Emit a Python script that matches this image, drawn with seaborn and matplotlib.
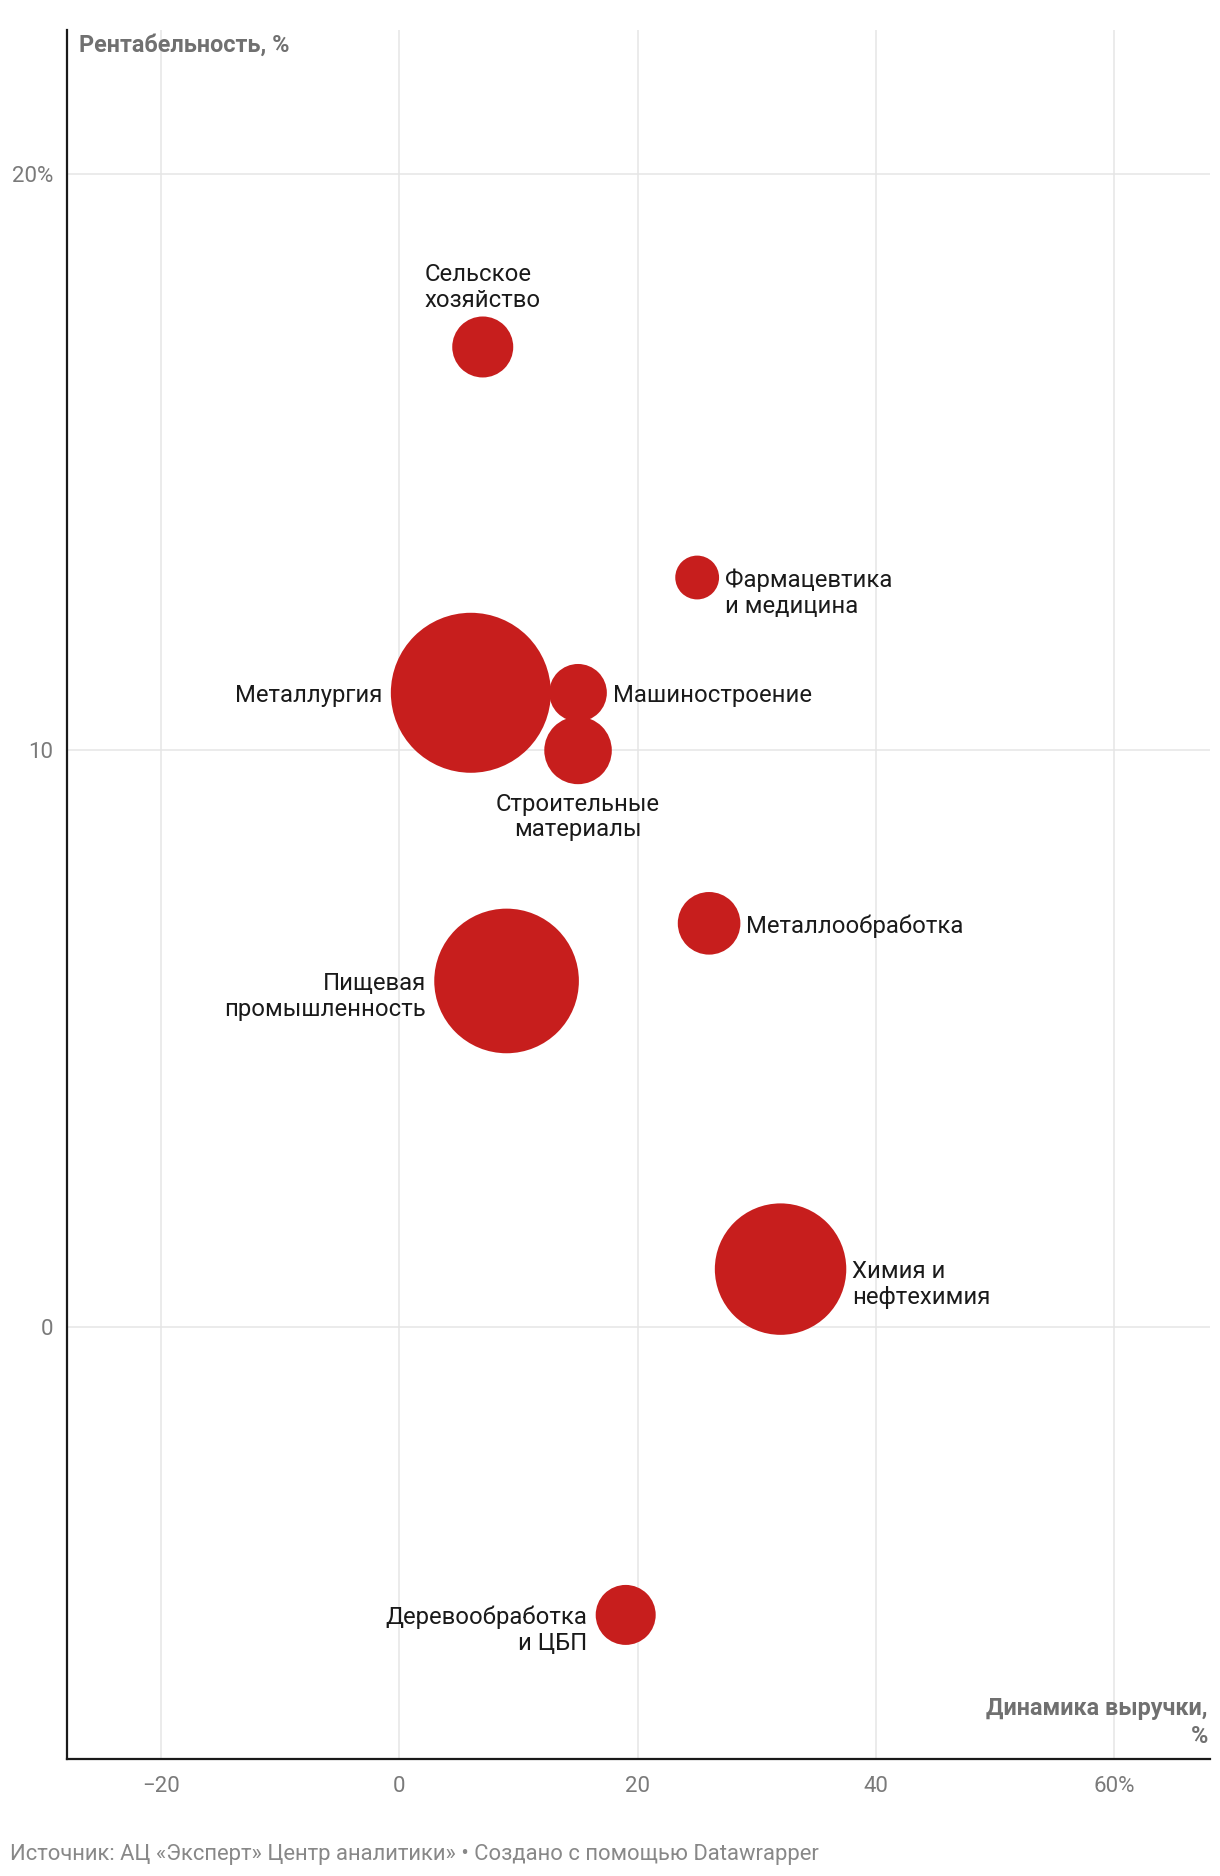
"""Bubble chart: revenue dynamics vs profitability by industry."""

import matplotlib.pyplot as plt
import numpy as np
import pandas as pd
import seaborn as sns

industries = [
    "Сельское\nхозяйство",
    "Фармацевтика\nи медицина",
    "Металлургия",
    "Машиностроение",
    "Строительные\nматериалы",
    "Металлообработка",
    "Пищевая\nпромышленность",
    "Химия и\nнефтехимия",
    "Деревообработка\nи ЦБП",
]
revenue_growth = [7, 25, 6, 15, 15, 26, 9, 32, 19]
profitability = [17, 13, 11, 11, 10, 7, 6, 1, -5]
bubble_size = [9.3, 4.8, 64.0, 8.3, 11.4, 9.8, 52.3, 43.2, 9.0]

x_ticks = [-20, 0, 20, 40, 60]
x_tick_labels = ["\u221220", "0", "20", "40", "60%"]
y_ticks = [0, 10, 20]
y_tick_labels = ["0", "10", "20%"]

# where each label sits relative to its bubble
label_side = {
    "Сельское\nхозяйство": "top",
    "Фармацевтика\nи медицина": "right",
    "Металлургия": "left",
    "Машиностроение": "right",
    "Строительные\nматериалы": "bottom",
    "Металлообработка": "right",
    "Пищевая\nпромышленность": "left",
    "Химия и\nнефтехимия": "right",
    "Деревообработка\nи ЦБП": "left",
}

RED = "#c71e1d"
GRID = "#e5e5e5"
TICK_GRAY = "#7a7a7a"
TITLE_GRAY = "#707070"
DPI = 100
PX_PER_UNIT = 207.36  # marker area (pt^2) per size unit
LABEL_FS = 17.2

df = pd.DataFrame({
    "industry": industries,
    "growth": revenue_growth,
    "profit": profitability,
    "size": bubble_size,
})

sns.set_theme(style="white")
plt.rcParams["font.family"] = ["Roboto", "DejaVu Sans"]

fig = plt.figure(figsize=(12.2, 18.76), dpi=DPI)
ax = fig.add_axes([67 / 1220, 1 - 1759 / 1876, (1210 - 67) / 1220, (1759 - 30) / 1876])

smin, smax = min(bubble_size), max(bubble_size)
sns.scatterplot(
    data=df, x="growth", y="profit", size="size",
    sizes=(smin * PX_PER_UNIT, smax * PX_PER_UNIT), size_norm=(smin, smax),
    color=RED, linewidth=0, alpha=1, legend=False, ax=ax, zorder=3,
)

ax.set_xlim(-27.9, 68.05)
ax.set_ylim(-7.5, 22.5)
ax.set_xticks(x_ticks, x_tick_labels)
ax.set_yticks(y_ticks, y_tick_labels)
ax.grid(True, color=GRID, linewidth=1.1, zorder=0)
ax.set_axisbelow(True)
ax.tick_params(axis="both", length=0, labelsize=16, labelcolor=TICK_GRAY)
ax.tick_params(axis="x", pad=12)
ax.tick_params(axis="y", pad=10)
ax.set_xlabel("")
ax.set_ylabel("")
for side in ["top", "right"]:
    ax.spines[side].set_visible(False)
for side in ["left", "bottom"]:
    ax.spines[side].set_color("#1a1a1a")
    ax.spines[side].set_linewidth(1.6)

for _, row in df.iterrows():
    r = np.sqrt(row["size"] * PX_PER_UNIT) / 2 * DPI / 72
    side = label_side[row["industry"]]
    kw = dict(xy=(row["growth"], row["profit"]), textcoords="offset pixels",
              fontsize=LABEL_FS, color="#1a1a1a", linespacing=1.15, zorder=4)
    if side == "top":
        ax.annotate(row["industry"], xytext=(0, r + 4.5), ha="center", va="bottom",
                    multialignment="left", **kw)
    elif side == "bottom":
        ax.annotate(row["industry"], xytext=(0, -(r + 8.5)), ha="center", va="top",
                    multialignment="center", **kw)
    elif side == "right":
        ax.annotate(row["industry"], xytext=(r + 6, 9), ha="left", va="top",
                    multialignment="left", **kw)
    else:
        ax.annotate(row["industry"], xytext=(-(r + 8), 9), ha="right", va="top",
                    multialignment="right", **kw)

fig.text(79 / 1220, 1 - 52 / 1876, "Рентабельность, %", fontsize=16.8,
         fontweight="bold", color=TITLE_GRAY, ha="left", va="baseline")
fig.text(1208 / 1220, 1 - 1743 / 1876, "Динамика выручки,\n%", fontsize=16.8,
         fontweight="bold", color=TITLE_GRAY, ha="right", va="baseline",
         multialignment="right", linespacing=1.26)
fig.text(10 / 1220, 1 - 1860 / 1876,
         "Источник: АЦ «Эксперт» Центр аналитики» • Создано с помощью Datawrapper",
         fontsize=15.85, color="#888888", ha="left", va="baseline")

fig.savefig("out.png", dpi=DPI, facecolor="white")
plt.close(fig)
